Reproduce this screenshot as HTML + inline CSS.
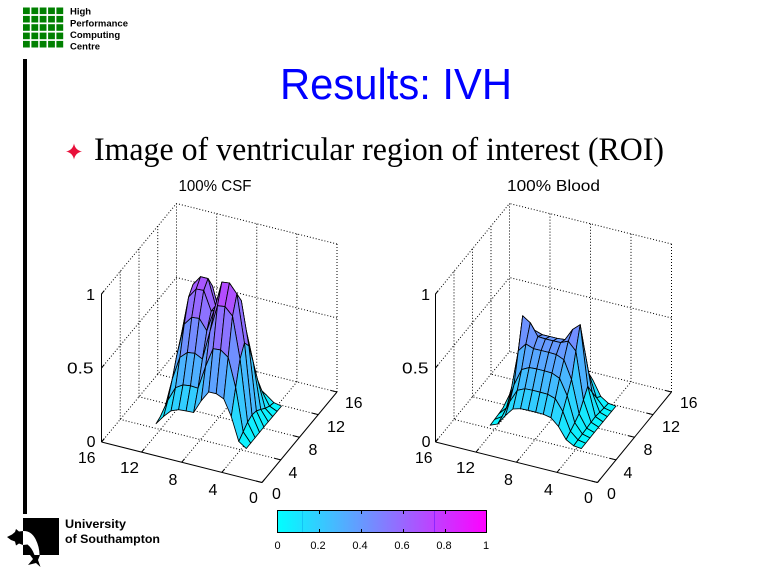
<!DOCTYPE html>
<html><head><meta charset="utf-8">
<style>html,body{margin:0;padding:0;background:#fff;overflow:hidden}svg{display:block}</style>
</head>
<body>
<svg id="s" xmlns="http://www.w3.org/2000/svg" width="768" height="576" viewBox="0 0 768 576">
<defs>
<linearGradient id="cb" x1="0" y1="0" x2="1" y2="0">
<stop offset="0" stop-color="#00ffff"/><stop offset="0.5" stop-color="#8080ff"/><stop offset="1" stop-color="#ff00ff"/>
</linearGradient>
</defs>
<rect width="768" height="576" fill="#fff"/>
<!-- HPC logo -->
<g fill="#008000">
<rect x="23" y="7.5" width="6.8" height="6.6"/><rect x="31.4" y="7.5" width="6.8" height="6.6"/><rect x="39.7" y="7.5" width="6.8" height="6.6"/><rect x="48.1" y="7.5" width="6.8" height="6.6"/><rect x="56.4" y="7.5" width="6.8" height="6.6"/>
<rect x="23" y="15.9" width="6.8" height="6.6"/><rect x="31.4" y="15.9" width="6.8" height="6.6"/><rect x="39.7" y="15.9" width="6.8" height="6.6"/><rect x="48.1" y="15.9" width="6.8" height="6.6"/><rect x="56.4" y="15.9" width="6.8" height="6.6"/>
<rect x="23" y="24.2" width="6.8" height="6.6"/><rect x="31.4" y="24.2" width="6.8" height="6.6"/><rect x="39.7" y="24.2" width="6.8" height="6.6"/><rect x="48.1" y="24.2" width="6.8" height="6.6"/><rect x="56.4" y="24.2" width="6.8" height="6.6"/>
<rect x="23" y="32.6" width="6.8" height="6.6"/><rect x="31.4" y="32.6" width="6.8" height="6.6"/><rect x="39.7" y="32.6" width="6.8" height="6.6"/><rect x="48.1" y="32.6" width="6.8" height="6.6"/><rect x="56.4" y="32.6" width="6.8" height="6.6"/>
<rect x="23" y="40.9" width="6.8" height="6.6"/><rect x="31.4" y="40.9" width="6.8" height="6.6"/><rect x="39.7" y="40.9" width="6.8" height="6.6"/><rect x="48.1" y="40.9" width="6.8" height="6.6"/><rect x="56.4" y="40.9" width="6.8" height="6.6"/>
</g>
<g font-family="Liberation Sans, Arial, sans-serif" font-weight="bold" font-size="9.5" fill="#000">
<text x="70" y="14.5">High</text>
<text x="70" y="26.5" textLength="58" lengthAdjust="spacingAndGlyphs">Performance</text>
<text x="70" y="38">Computing</text>
<text x="70" y="49.5">Centre</text>
</g>
<!-- vertical bar -->
<rect x="23" y="59" width="4" height="455" fill="#000"/>
<!-- Title -->
<text x="280" y="99" font-family="Liberation Sans, Arial, sans-serif" font-size="44" fill="#0000ff" textLength="232" lengthAdjust="spacingAndGlyphs">Results: IVH</text>
<!-- bullet -->
<path d="M74,143.5 Q75.3,150.2 82,151.5 Q75.3,152.8 74,159.5 Q72.7,152.8 66,151.5 Q72.7,150.2 74,143.5 Z" fill="#e8103a"/>
<text x="94" y="160" font-family="Liberation Serif, 'Times New Roman', serif" font-size="33" fill="#000" textLength="570" lengthAdjust="spacingAndGlyphs">Image of ventricular region of interest (ROI)</text>
<!-- plot titles -->
<g font-family="Liberation Sans, Arial, sans-serif" font-size="16" fill="#000">
<text x="178.5" y="191" textLength="73" lengthAdjust="spacingAndGlyphs">100% CSF</text>
<text x="507" y="191" textLength="93" lengthAdjust="spacingAndGlyphs">100% Blood</text>
</g>
<g id="plots"></g>
<!-- tick labels left plot -->
<g font-family="Liberation Sans, Arial, sans-serif" font-size="16" fill="#000">
<text x="95" y="300" text-anchor="end">1</text>
<text x="67" y="373.5" textLength="26.5" lengthAdjust="spacingAndGlyphs">0.5</text>
<text x="95.5" y="447" text-anchor="end">0</text>
<text x="78" y="463" textLength="17.5" lengthAdjust="spacingAndGlyphs">16</text>
<text x="120" y="473" textLength="19" lengthAdjust="spacingAndGlyphs">12</text>
<text x="168.5" y="485">8</text>
<text x="208.5" y="495">4</text>
<text x="249" y="503">0</text>
<text x="272" y="499">0</text>
<text x="288.5" y="478">4</text>
<text x="308.5" y="455">8</text>
<text x="327" y="432" textLength="18" lengthAdjust="spacingAndGlyphs">12</text>
<text x="345" y="408" textLength="17.5" lengthAdjust="spacingAndGlyphs">16</text>
</g>
<!-- tick labels right plot -->
<g font-family="Liberation Sans, Arial, sans-serif" font-size="16" fill="#000">
<text x="430" y="300" text-anchor="end">1</text>
<text x="402" y="373.5" textLength="26.5" lengthAdjust="spacingAndGlyphs">0.5</text>
<text x="430.5" y="447" text-anchor="end">0</text>
<text x="415" y="463" textLength="17.5" lengthAdjust="spacingAndGlyphs">16</text>
<text x="456" y="473" textLength="19" lengthAdjust="spacingAndGlyphs">12</text>
<text x="504" y="485">8</text>
<text x="544" y="495">4</text>
<text x="584" y="503">0</text>
<text x="607" y="499">0</text>
<text x="623.5" y="478">4</text>
<text x="643.5" y="455">8</text>
<text x="662" y="432" textLength="18" lengthAdjust="spacingAndGlyphs">12</text>
<text x="680" y="408" textLength="17.5" lengthAdjust="spacingAndGlyphs">16</text>
</g>
<!-- colorbar -->
<rect x="277" y="510" width="210" height="23" fill="url(#cb)"/>
<line x1="302.5" y1="510" x2="302.5" y2="533" stroke="#10b0f0" stroke-width="1" opacity="0.6"/>
<line x1="434.5" y1="510" x2="434.5" y2="533" stroke="#8020ff" stroke-width="1" opacity="0.8"/>
<rect x="277.5" y="510.5" width="209" height="22" fill="none" stroke="#000" stroke-width="1"/>
<g stroke="#000" stroke-width="1">
<line x1="319.5" y1="511" x2="319.5" y2="514"/><line x1="361.5" y1="511" x2="361.5" y2="514"/><line x1="403.5" y1="511" x2="403.5" y2="514"/><line x1="445.5" y1="511" x2="445.5" y2="514"/>
<line x1="319.5" y1="529" x2="319.5" y2="532"/><line x1="361.5" y1="529" x2="361.5" y2="532"/><line x1="403.5" y1="529" x2="403.5" y2="532"/><line x1="445.5" y1="529" x2="445.5" y2="532"/>
</g>
<g font-family="Liberation Sans, Arial, sans-serif" font-size="11" fill="#000" text-anchor="middle">
<text x="277.5" y="549">0</text>
<text x="318" y="549">0.2</text>
<text x="360" y="549">0.4</text>
<text x="402" y="549">0.6</text>
<text x="444" y="549">0.8</text>
<text x="486" y="549">1</text>
</g>
<!-- Southampton logo -->
<rect x="23" y="518" width="36" height="37" fill="#000"/>
<path d="M7,537 L12,534.5 L15,532 L16,529 L19,531.5 L23,531 L23,545 L19,543.5 L16,545.5 L15,541.5 L11,540 Z" fill="#000"/>
<path d="M23,531 Q31,530.5 35.5,539 Q39.5,547 39.5,555 L34.5,555 Q32,548 27.5,544.5 L23,545 Z" fill="#fff"/>
<path d="M30,555 L40,555 L38,560 L40.5,567 L36,563 L28,565 L33,559 Z" fill="#000"/>
<g font-family="Liberation Sans, Arial, sans-serif" font-weight="bold" font-size="12" fill="#000">
<text x="65" y="528" textLength="61" lengthAdjust="spacingAndGlyphs">University</text>
<text x="65" y="543" textLength="95" lengthAdjust="spacingAndGlyphs">of Southampton</text>
</g>
</svg>
<script>
(function(){
var NS='http://www.w3.org/2000/svg';
var plots=document.getElementById('plots');
function el(tag,attrs,parent){var e=document.createElementNS(NS,tag);for(var k in attrs)e.setAttribute(k,attrs[k]);parent.appendChild(e);return e;}
function cool(c){c=Math.max(0,Math.min(1,c));var r=Math.round(255*c),g=Math.round(255*(1-c));return 'rgb('+r+','+g+',255)';}
function plot(A,B,C,f){
  var H=148;
  function P(p,q,z){return [B[0]+(A[0]-B[0])*p/16+(C[0]-B[0])*q/16, B[1]+(A[1]-B[1])*p/16+(C[1]-B[1])*q/16-H*z];}
  var g=el('g',{},plots);
  function ln(a,b,d){el('line',{x1:a[0].toFixed(2),y1:a[1].toFixed(2),x2:b[0].toFixed(2),y2:b[1].toFixed(2),stroke:'#000','stroke-width':1,'stroke-dasharray':d?'1 2':'none'},g);}
  var T=[4,8,12,16],i,j,t;
  for(i=0;i<T.length;i++){t=T[i];ln(P(t,0,0),P(t,16,0),true);ln(P(0,t,0),P(16,t,0),true);}
  for(i=0;i<T.length;i++){t=T[i];ln(P(16,t,0),P(16,t,1),true);}
  [0.5,1].forEach(function(z){ln(P(16,0,z),P(16,16,z),true);ln(P(0,16,z),P(16,16,z),true);});
  [0,4,8,12].forEach(function(t){ln(P(t,16,0),P(t,16,1),true);});
  // surface
  var np=13,nq=9,p0=3.2,p1=12.2,q0=3.5,q1=11,V=[];
  for(i=0;i<np;i++){V[i]=[];for(j=0;j<nq;j++){var p=p0+(p1-p0)*i/(np-1),q=q0+(q1-q0)*j/(nq-1),z=f(p,q);V[i][j]={p:p,q:q,z:z,s:P(p,q,z)};}}
  var quads=[];
  for(i=0;i<np-1;i++)for(j=0;j<nq-1;j++){
    var a=V[i][j],b=V[i+1][j],c=V[i+1][j+1],d=V[i][j+1];
    var pc=(a.p+b.p)/2,qc=(a.q+d.q)/2,zc=(a.z+b.z+c.z+d.z)/4;
    quads.push({pts:[a.s,b.s,c.s,d.s],key:pc+2.133*qc,z:zc});
  }
  quads.sort(function(x,y){return y.key-x.key;});
  quads.forEach(function(qd){
    var s=qd.pts.map(function(pt){return pt[0].toFixed(2)+','+pt[1].toFixed(2);}).join(' ');
    el('polygon',{points:s,fill:cool(qd.z*0.75),stroke:'#000','stroke-width':0.85,'stroke-linejoin':'round'},g);
  });
  // axes
  ln(P(16,0,0),P(0,0,0),false);ln(P(0,0,0),P(0,16,0),false);ln(P(16,0,0),P(16,0,1),false);
  [0,0.5,1].forEach(function(z){ln(P(16,0,z),P(16,0.6,z),false);});
  [0,4,8,12,16].forEach(function(t){ln(P(t,0,0),P(t,0.6,0),false);ln(P(0,t,0),P(0.6,t,0),false);});
}
function R(d,w){return Math.exp(-Math.pow(Math.abs(d)/w,4));}
function Bz(p,q){return Math.exp(-Math.pow((p-8)/3.3,4))*Math.exp(-Math.pow(q-7.3,2)/14);}
function fC(p,q){
  return 0.04+0.2*Bz(p,q)+0.70*R(p-9.95,1.85)*Math.exp(-Math.pow(q-8.1875,2)/10.4)+0.79*R(p-6.2,1.85)*Math.exp(-Math.pow(q-6.3125,2)/7);
}
function fB(p,q){
  return 0.04+0.18*Bz(p,q)+0.33*Math.exp(-Math.pow((p-8)/2.9,6))*Math.exp(-Math.pow(q-7.5,2)/14)
   +0.34*Math.exp(-(Math.pow(p-10.7,2)/0.6+Math.pow(q-7.25,2)/1.2))
   +0.30*Math.exp(-(Math.pow(p-5.45,2)/0.6+Math.pow(q-8.1875,2)/1.2));
}
plot([101.5,442],[262,482.5],[337,392],fC);
plot([435.5,442],[597.5,482.5],[671.5,392],fB);
})();
</script>
</body></html>
